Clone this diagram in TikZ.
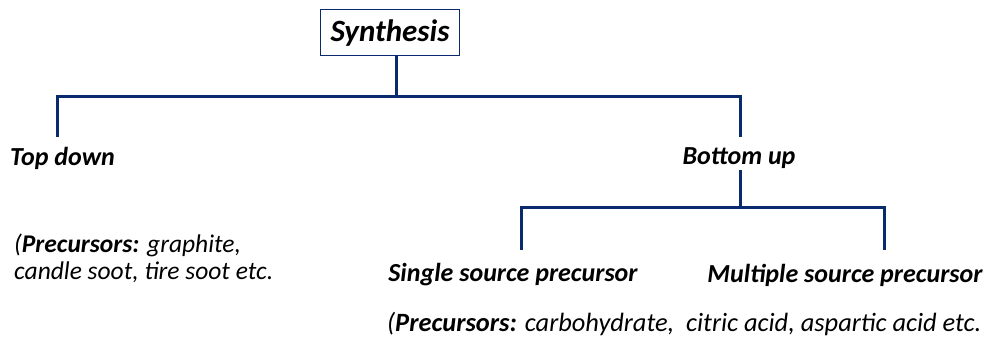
\documentclass[tikz,border=0pt]{standalone}
\usepackage{fontspec}
\setmainfont{Carlito}
\definecolor{navy}{HTML}{0A2A6E}
\begin{document}
\begin{tikzpicture}[x=1pt,y=-1pt,
  tree/.style={draw=navy,line width=3pt},
  label/.style={font=\fontsize{26}{30}\selectfont\bfseries\itshape,inner sep=0pt},
  note/.style={font=\fontsize{25.5}{27}\selectfont\itshape,inner sep=0pt,align=left}]
\useasboundingbox (0,0) rectangle (991,339);
% root box
\node[draw=navy,line width=1pt,minimum width=139pt,minimum height=46pt,inner sep=0pt,
      font=\fontsize{31}{34}\selectfont\bfseries\itshape] (syn) at (390,33) {Synthesis};
% first level
\node[label,anchor=west] (top) at (10,158) {Top down};
\node[label] (bot) at (739,158) {Bottom up};
\coordinate (j1) at (396,97);
\coordinate (l1) at (57,97);
\coordinate (r1) at (740,97);
\draw[tree] (syn.south -| j1) -- (j1);
\draw[tree] (57,137) -- (l1) -- (r1) -- (740,137);
% second level
\node[label] (single) at (513,275) {Single source precursor};
\node[label] (multi) at (845,275) {Multiple source precursor};
\coordinate (j2) at (740,208);
\draw[tree] (740,170) -- (j2);
\draw[tree] (521,250) -- (521,208) -- (884,208) -- (884,250);
% precursor notes
\node[note,anchor=west] (ntop) at (14,258) {(\textbf{Precursors:} graphite,\\candle soot, tire soot etc.};
\node[note,anchor=west,font=\fontsize{26.4}{28}\selectfont\itshape] (nbot) at (387,324) {(\textbf{Precursors:} carbohydrate,\ \ citric acid, aspartic acid etc.};
\end{tikzpicture}
\end{document}
